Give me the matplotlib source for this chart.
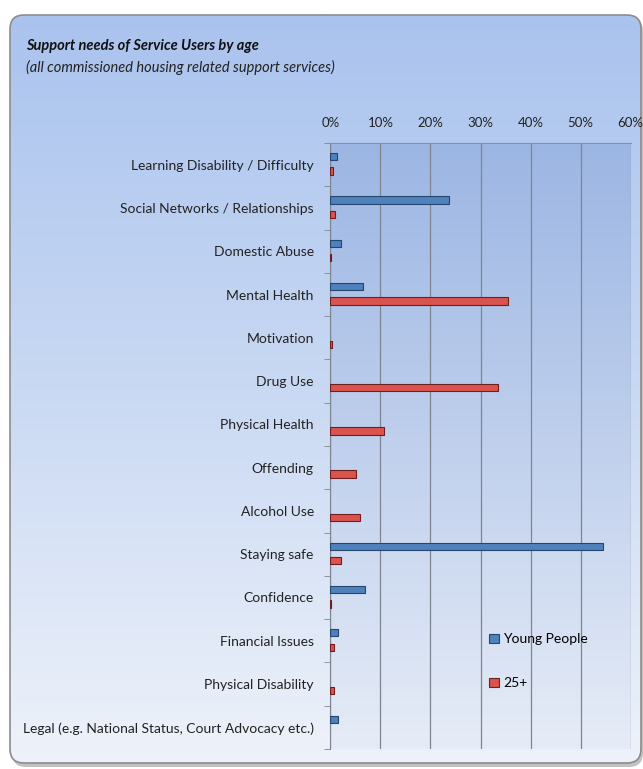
import matplotlib.pyplot as plt
import numpy as np
from matplotlib.patches import FancyBboxPatch
from matplotlib.colors import LinearSegmentedColormap

plt.rcParams['font.family'] = ['Lato', 'DejaVu Sans']

categories = [
    "Learning Disability / Difficulty",
    "Social Networks / Relationships",
    "Domestic Abuse",
    "Mental Health",
    "Motivation",
    "Drug Use",
    "Physical Health",
    "Offending",
    "Alcohol Use",
    "Staying safe",
    "Confidence",
    "Financial Issues",
    "Physical Disability",
    "Legal (e.g. National Status, Court Advocacy etc.)",
]
young_people = [1.4, 23.6, 2.1, 6.6, 0.0, 0.0, 0.0, 0.0, 0.0, 54.5, 7.0, 1.6, 0.0, 1.5]
over_25 = [0.5, 1.0, 0.2, 35.5, 0.3, 33.4, 10.7, 5.1, 5.9, 2.1, 0.2, 0.7, 0.7, 0.0]
series_names = ["Young People", "25+"]
x_ticks = [0, 10, 20, 30, 40, 50, 60]

W, H = 643, 769
fig = plt.figure(figsize=(W / 100, H / 100), dpi=100)
fig.patch.set_facecolor("white")

# background panel with rounded corners and vertical gradient
bg = fig.add_axes([0, 0, 1, 1])
bg.set_xlim(0, W)
bg.set_ylim(H, 0)
bg.axis("off")

panel_cmap = LinearSegmentedColormap.from_list("panel", ["#aac3ee", "#c9d9f3", "#eef2fa"])
grad = np.linspace(0, 1, 256).reshape(-1, 1)
shadow = FancyBboxPatch((12, 17), 631, 750, boxstyle="round,pad=0,rounding_size=14",
                        facecolor="#9a9a9a", edgecolor="none", alpha=0.6)
bg.add_patch(shadow)
panel = FancyBboxPatch((10, 15), 631, 748, boxstyle="round,pad=0,rounding_size=14",
                       facecolor="none", edgecolor="#8c8c8c", linewidth=1.2)
bg.add_patch(panel)
im = bg.imshow(grad, cmap=panel_cmap, extent=(10, 641, 763, 15), aspect="auto", zorder=1)
im.set_clip_path(panel)
panel.set_zorder(2)

# plot area gradient
plot_cmap = LinearSegmentedColormap.from_list("plotarea", ["#9cb6e3", "#c0d0ed", "#e6ecf7"])
bg.imshow(grad, cmap=plot_cmap, extent=(330.5, 630.5, 749, 143), aspect="auto", zorder=1.5)

bg.text(26, 50, "Support needs of Service Users by age", fontsize=10.5,
        fontweight="bold", fontstyle="italic", color="#111111", zorder=3)
bg.text(26, 72, "(all commissioned housing related support services)", fontsize=10.5,
        fontstyle="italic", color="#222222", zorder=3)

ax = fig.add_axes([330.5 / W, 1 - 749 / H, 300 / W, 606 / H])
ax.set_facecolor("none")

y = np.arange(len(categories))
bar_h = 0.17
yp_lw = [0.8 if v > 0 else 0 for v in young_people]
o25_lw = [0.8 if v > 0 else 0 for v in over_25]
ax.barh(y - 0.185, young_people, height=bar_h, color="#4f81bd",
        edgecolor="#25466f", linewidth=yp_lw, label=series_names[0], zorder=3)
ax.barh(y + 0.15, over_25, height=bar_h, color="#d9534f",
        edgecolor="#6e1f1d", linewidth=o25_lw, label=series_names[1], zorder=3)

ax.set_xlim(0, 60)
ax.set_ylim(len(categories) - 0.5, -0.5)
ax.set_xticks(x_ticks)
ax.set_xticklabels([f"{t}%" for t in x_ticks])
ax.xaxis.tick_top()
ax.tick_params(axis="x", length=0, pad=10, labelsize=9.5, labelcolor="#222222")
ax.grid(axis="x", color="#7f8590", linewidth=0.9, zorder=1)

ax.set_yticks(y)
ax.set_yticklabels(categories)
ax.set_yticks(np.arange(len(categories) + 1) - 0.5, minor=True)
ax.tick_params(axis="y", which="major", length=0, pad=12, labelsize=10, labelcolor="#222222")
ax.tick_params(axis="y", which="minor", length=4, color="#7f8590")

for side in ["right", "bottom"]:
    ax.spines[side].set_visible(False)
ax.spines["left"].set_color("#7f8590")
ax.spines["top"].set_color("#8a9099")

leg = ax.legend(loc="upper left", bbox_to_anchor=(0.51, 0.2), frameon=False,
                fontsize=10, handlelength=0.7, handleheight=0.7, handletextpad=0.3,
                labelspacing=2.3, borderaxespad=0)
for h in leg.legend_handles:
    h.set_linewidth(0.8)

fig.savefig("out.png", dpi=100)
